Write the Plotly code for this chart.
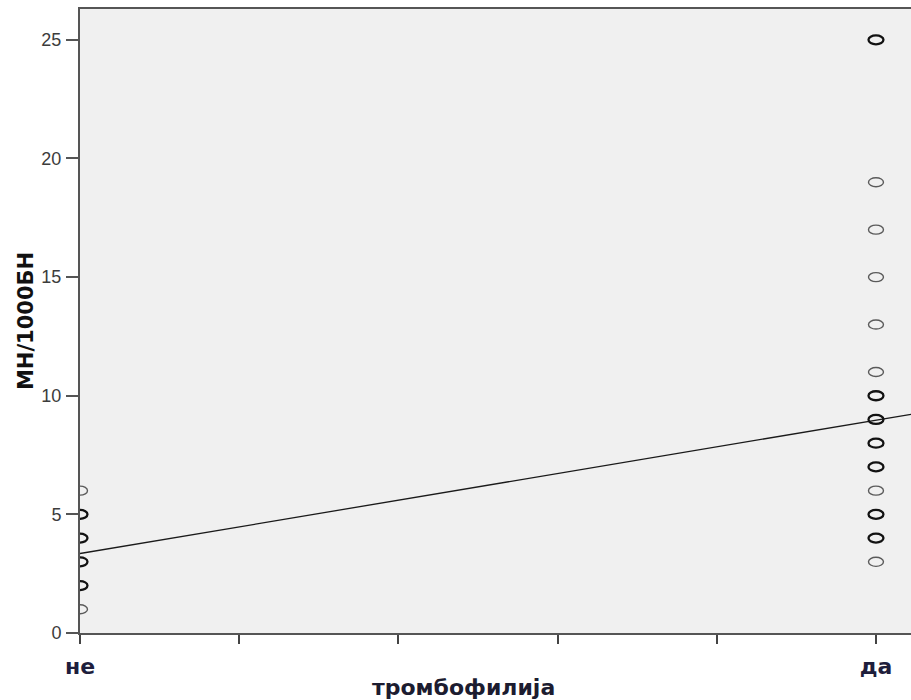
import plotly.graph_objects as go

# Group values: 0 = не, 1 = да
group_ne_y = [6, 5, 4, 3, 2, 1]
group_ne_heavy = [False, True, True, True, True, False]
group_da_y = [25, 19, 17, 15, 13, 11, 10, 9, 8, 7, 6, 5, 4, 3]
group_da_heavy = [True, False, False, False, False, False, True, True, True, True, False, True, True, False]

# Linear fit line (total population)
fit_intercept = 3.35
fit_slope = 5.62

x_tick_vals = [0, 0.2, 0.4, 0.6, 0.8, 1.0]
x_tick_text = ["не", "", "", "", "", "да"]
y_tick_vals = [0, 5, 10, 15, 20, 25]

x_range = [0, 1.044]
y_range = [0, 26.3]

# Point symbols are wide open ellipses; half-axes in data units
RX = 0.0094
RY = 0.19

fig = go.Figure()

line_x = list(x_range)
line_y = [fit_intercept + fit_slope * v for v in line_x]
fig.add_trace(go.Scatter(
    x=line_x, y=line_y, mode="lines",
    line=dict(color="#1a1a1a", width=1.3), showlegend=False, hoverinfo="skip",
))

shapes = []
for gx, ys, heavy in ((0, group_ne_y, group_ne_heavy), (1, group_da_y, group_da_heavy)):
    for yv, h in zip(ys, heavy):
        shapes.append(dict(
            type="circle", xref="x", yref="y", layer="above",
            x0=gx - RX, x1=gx + RX, y0=yv - RY, y1=yv + RY,
            line=dict(color="#121212" if h else "#5a5a5a", width=2.3 if h else 1.4),
            fillcolor="rgba(0,0,0,0)",
        ))

fig.update_layout(
    width=911, height=700,
    margin=dict(l=80, r=0, t=9, b=67),
    paper_bgcolor="white",
    plot_bgcolor="#f0f0f0",
    font=dict(family="Liberation Sans, Arial, sans-serif", color="#333333"),
    shapes=shapes,
    xaxis=dict(
        range=x_range,
        tickmode="array", tickvals=x_tick_vals, ticktext=x_tick_text,
        ticks="outside", ticklen=9, tickwidth=2, tickcolor="#444444",
        ticklabelstandoff=4,
        tickfont=dict(size=22, color="#1e1e3c", family="DejaVu Sans, sans-serif", weight="bold"),
        showline=True, linecolor="#555555", linewidth=2, mirror=True,
        showgrid=False, zeroline=False,
    ),
    yaxis=dict(
        range=y_range,
        tickmode="array", tickvals=y_tick_vals,
        ticks="outside", ticklen=12, tickwidth=2, tickcolor="#555555",
        ticklabelstandoff=1,
        tickfont=dict(size=18, color="#3c3c3c", family="Liberation Sans, Arial, sans-serif"),
        showline=True, linecolor="#555555", linewidth=2,
        showgrid=False, zeroline=False,
        title=dict(text="МН/1000БН", font=dict(size=21, color="#111111", family="DejaVu Sans, sans-serif", weight="bold"), standoff=2),
    ),
    annotations=[dict(
        text="тромбофилија", xref="paper", yref="paper",
        x=0.462, y=-0.087, xanchor="center", yanchor="middle", showarrow=False,
        font=dict(size=22, color="#1c1c30", family="DejaVu Sans, sans-serif", weight="bold"),
    )],
)

fig.write_html("out.html")
